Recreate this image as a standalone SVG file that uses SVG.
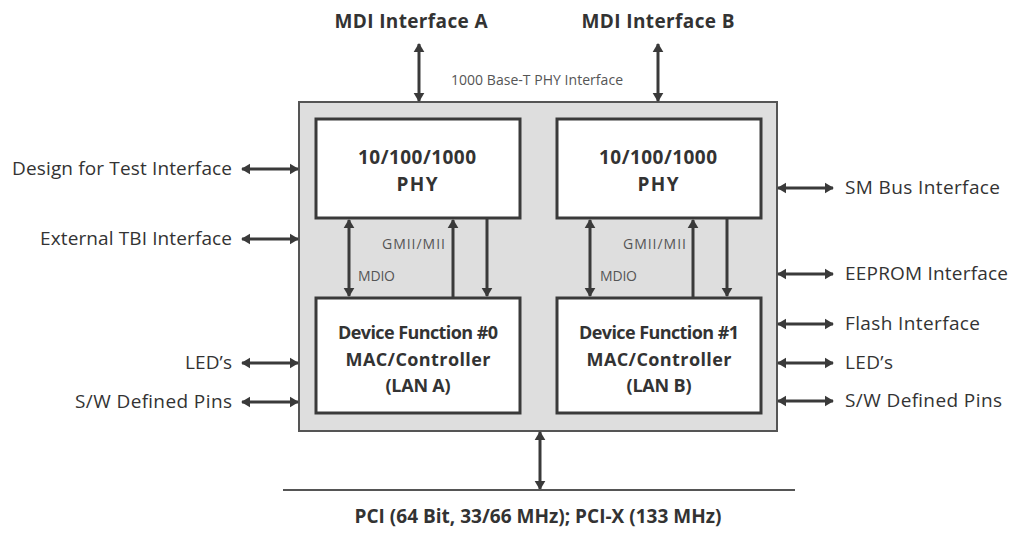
<svg xmlns="http://www.w3.org/2000/svg" width="1011" height="538" viewBox="0 0 1011 538">
<style>
text{font-family:"Open Sans","Liberation Sans",sans-serif;fill:#333}
.b{font-weight:bold;font-size:19px}
.d{font-weight:bold;font-size:18px}
.l{font-size:19px}
.s{font-size:14px;fill:#555}
.box{fill:#fff;stroke:#3a3a3a;stroke-width:3}
.c{stroke:#3a3a3a;stroke-width:3;fill:none}
</style>
<defs>
<marker id="ah" viewBox="0 0 10 12" refX="9" refY="6" markerWidth="9" markerHeight="12" markerUnits="userSpaceOnUse" orient="auto-start-reverse">
<path d="M0,0 L10,6 L0,12 z" fill="#3a3a3a"/>
</marker>
</defs>
<rect width="1011" height="538" fill="#fff"/>
<g id="chip">
<rect x="299" y="102" width="478" height="329" fill="#dedede" stroke="#555" stroke-width="2"/>
</g>
<g id="phyA">
<rect class="box" x="316" y="119" width="204" height="99"/>
<text class="b" x="417" y="164" text-anchor="middle" textLength="118">10/100/1000</text>
<text class="b" x="417" y="191" text-anchor="middle" textLength="41">PHY</text>
</g>
<g id="phyB">
<rect class="box" x="557" y="119" width="204" height="99"/>
<text class="b" x="658" y="164" text-anchor="middle" textLength="118">10/100/1000</text>
<text class="b" x="658" y="191" text-anchor="middle" textLength="41">PHY</text>
</g>
<g id="macA">
<rect class="box" x="316" y="298" width="204" height="115"/>
<text class="d" x="418" y="339" text-anchor="middle" textLength="160">Device Function #0</text>
<text class="d" x="418" y="366" text-anchor="middle" textLength="145">MAC/Controller</text>
<text class="d" x="418" y="392" text-anchor="middle" textLength="65">(LAN A)</text>
</g>
<g id="macB">
<rect class="box" x="557" y="298" width="204" height="115"/>
<text class="d" x="659" y="339" text-anchor="middle" textLength="160">Device Function #1</text>
<text class="d" x="659" y="366" text-anchor="middle" textLength="145">MAC/Controller</text>
<text class="d" x="659" y="392" text-anchor="middle" textLength="65">(LAN B)</text>
</g>
<g id="labels">
<text class="b" x="411" y="28" text-anchor="middle" textLength="153">MDI Interface A</text>
<text class="b" x="658" y="28" text-anchor="middle" textLength="153">MDI Interface B</text>
<text class="s" x="537" y="85" text-anchor="middle" textLength="172">1000 Base-T PHY Interface</text>
<text class="s" x="382" y="249" textLength="63">GMII/MII</text>
<text class="s" x="358" y="281" textLength="37">MDIO</text>
<text class="s" x="623" y="249" textLength="63">GMII/MII</text>
<text class="s" x="600" y="281" textLength="37">MDIO</text>
<text class="l" x="232" y="175" text-anchor="end" textLength="220">Design for Test Interface</text>
<text class="l" x="232" y="245" text-anchor="end" textLength="192">External TBI Interface</text>
<text class="l" x="232" y="369" text-anchor="end" textLength="47">LED’s</text>
<text class="l" x="232" y="408" text-anchor="end" textLength="157">S/W Defined Pins</text>
<text class="l" x="845" y="194" textLength="155">SM Bus Interface</text>
<text class="l" x="845" y="280" textLength="163">EEPROM Interface</text>
<text class="l" x="845" y="330" textLength="135">Flash Interface</text>
<text class="l" x="845" y="369" textLength="48">LED’s</text>
<text class="l" x="845" y="407" textLength="157">S/W Defined Pins</text>
<text class="b" x="538" y="523" text-anchor="middle" textLength="367">PCI (64 Bit, 33/66 MHz); PCI-X (133 MHz)</text>
</g>
<g id="connectors">
<line class="c" x1="419" y1="44" x2="419" y2="101" marker-start="url(#ah)" marker-end="url(#ah)"/>
<line class="c" x1="658" y1="44" x2="658" y2="101" marker-start="url(#ah)" marker-end="url(#ah)"/>
<line class="c" x1="349" y1="220" x2="349" y2="296" marker-start="url(#ah)" marker-end="url(#ah)"/>
<line class="c" x1="453" y1="220" x2="453" y2="297" marker-start="url(#ah)"/>
<line class="c" x1="487" y1="219" x2="487" y2="296" marker-end="url(#ah)"/>
<line class="c" x1="590" y1="220" x2="590" y2="296" marker-start="url(#ah)" marker-end="url(#ah)"/>
<line class="c" x1="693" y1="220" x2="693" y2="297" marker-start="url(#ah)"/>
<line class="c" x1="727" y1="219" x2="727" y2="296" marker-end="url(#ah)"/>
<line class="c" x1="242" y1="169" x2="298" y2="169" marker-start="url(#ah)" marker-end="url(#ah)"/>
<line class="c" x1="242" y1="239" x2="298" y2="239" marker-start="url(#ah)" marker-end="url(#ah)"/>
<line class="c" x1="242" y1="363" x2="298" y2="363" marker-start="url(#ah)" marker-end="url(#ah)"/>
<line class="c" x1="242" y1="402" x2="298" y2="402" marker-start="url(#ah)" marker-end="url(#ah)"/>
<line class="c" x1="778" y1="188" x2="833" y2="188" marker-start="url(#ah)" marker-end="url(#ah)"/>
<line class="c" x1="778" y1="274" x2="833" y2="274" marker-start="url(#ah)" marker-end="url(#ah)"/>
<line class="c" x1="778" y1="324" x2="833" y2="324" marker-start="url(#ah)" marker-end="url(#ah)"/>
<line class="c" x1="778" y1="363" x2="833" y2="363" marker-start="url(#ah)" marker-end="url(#ah)"/>
<line class="c" x1="778" y1="401" x2="833" y2="401" marker-start="url(#ah)" marker-end="url(#ah)"/>
<line class="c" x1="540" y1="432" x2="540" y2="489" marker-start="url(#ah)" marker-end="url(#ah)"/>
<line x1="283" y1="490" x2="795" y2="490" stroke="#555" stroke-width="2"/>
</g>
</svg>
